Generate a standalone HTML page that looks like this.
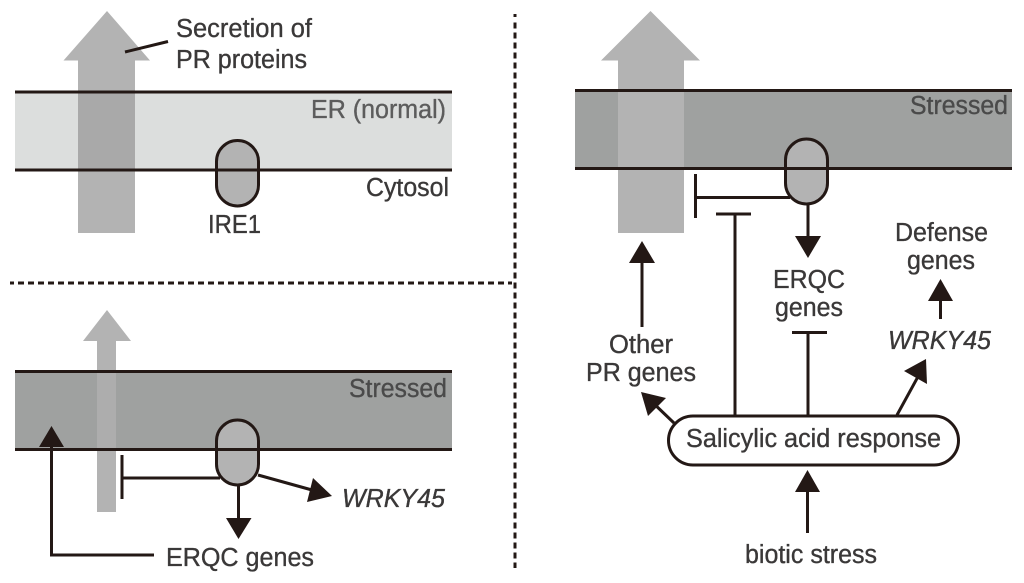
<!DOCTYPE html>
<html><head><meta charset="utf-8"><style>
html,body{margin:0;padding:0;background:#fff;width:1024px;height:583px;overflow:hidden}
svg{display:block}
text{font-family:"Liberation Sans",sans-serif;font-size:25.5px;fill:#3a3838;stroke:#3a3838;stroke-width:.35px}
.l{stroke:#231815;stroke-width:3;fill:none}
.a{fill:#231815}
.c{stroke:#231815;stroke-width:3;fill:#b3b3b3}
.p{stroke:#231815;stroke-width:3;fill:#fff}
</style></head><body>
<svg width="1024" height="583" viewBox="0 0 1024 583" xmlns="http://www.w3.org/2000/svg">
<!-- dashed dividers -->
<path d="M10 283H14M18 283H512" stroke="#231815" stroke-width="3" stroke-dasharray="6 4" fill="none"/>
<path d="M515 14V17M515 22.500V568" stroke="#231815" stroke-width="3" stroke-dasharray="6 4" fill="none"/>

<!-- Panel 1 -->
<rect x="15" y="92" width="437" height="78" fill="#dcdedd"/>
<path d="M107 11L150 60.500H135V233H78V60.500H63.500Z" fill="#b3b3b3"/>
<rect x="78" y="92" width="57" height="78" fill="#a9a9a9"/>
<path class="l" d="M15 92H452M15 170H452"/>
<rect x="216.500" y="140.500" width="42" height="65.500" rx="21" class="c"/>
<path class="l" d="M216 170H259"/>
<path class="l" d="M125 52L168 41.500"/>
<text x="176" y="37" textLength="136" lengthAdjust="spacingAndGlyphs">Secretion of</text>
<text x="176" y="68" textLength="131" lengthAdjust="spacingAndGlyphs">PR proteins</text>
<text x="311" y="118" textLength="135" lengthAdjust="spacingAndGlyphs" style="fill:#5c5c5c;stroke:#5c5c5c">ER (normal)</text>
<text x="366" y="196" textLength="83" lengthAdjust="spacingAndGlyphs">Cytosol</text>
<text x="208" y="233" textLength="53" lengthAdjust="spacingAndGlyphs">IRE1</text>

<!-- Panel 2 -->
<rect x="15" y="371" width="437" height="79" fill="#9fa1a0"/>
<path d="M107 310L131 341H116V512H97V341H83Z" fill="#b3b3b3"/>
<rect x="97" y="371" width="19" height="79" fill="#adadad"/>
<path class="l" d="M15 371.500H452M15 449.500H452"/>
<rect x="216.500" y="420" width="42" height="65" rx="21" class="c"/>
<path class="l" d="M216 449.500H259"/>
<path class="l" d="M122 455V499M122 478H220"/>
<path class="l" d="M238.500 485V520"/>
<path class="a" d="M226 518H251.500L238.500 539Z"/>
<path class="l" d="M258 475L312 490"/>
<path class="a" d="M313 478L332 496L307 502Z"/>
<path class="l" d="M154 555H51.500V446"/>
<path class="a" d="M51.500 426L64 447H39Z"/>
<text x="349" y="397" textLength="98" lengthAdjust="spacingAndGlyphs" style="fill:#4a4a4a;stroke:#4a4a4a">Stressed</text>
<text x="342" y="507" textLength="103" lengthAdjust="spacingAndGlyphs" font-style="italic">WRKY45</text>
<text x="166" y="566" textLength="148" lengthAdjust="spacingAndGlyphs">ERQC genes</text>

<!-- Panel 3 -->
<rect x="575" y="90" width="437" height="78" fill="#9fa1a0"/>
<path d="M650.500 11L700 60.500H684V233H618V60.500H601Z" fill="#b3b3b3"/>
<path class="l" d="M575 90.500H1012M575 168.500H1012"/>
<rect x="785.500" y="139" width="42" height="65" rx="21" class="c"/>
<path class="l" d="M785 168.500H829"/>
<path class="l" d="M695.500 174V218M695 197.500H790"/>
<path class="l" d="M808 204V238"/>
<path class="a" d="M795 236H821L808 258Z"/>
<path class="l" d="M716 214H751M735 214V415"/>
<path class="l" d="M642 262V327"/>
<path class="a" d="M642 241L655 263H629Z"/>
<path class="l" d="M792 332.500H827M808 332V415"/>
<path class="l" d="M940.500 300V319"/>
<path class="a" d="M940.500 279L953 301H928Z"/>
<rect x="668.500" y="416" width="290" height="49" rx="24.500" class="p"/>
<path class="l" d="M674 423L650 400"/>
<path class="a" d="M641 392L666 398L648 416Z"/>
<path class="l" d="M897 415L920 373"/>
<path class="a" d="M926 359L927 384L904 371Z"/>
<path class="l" d="M807.500 490V533"/>
<path class="a" d="M807.500 470L820 492H795Z"/>
<text x="910" y="114" textLength="98" lengthAdjust="spacingAndGlyphs" style="fill:#4a4a4a;stroke:#4a4a4a">Stressed</text>
<text x="895" y="241" textLength="93" lengthAdjust="spacingAndGlyphs">Defense</text>
<text x="907" y="269" textLength="68" lengthAdjust="spacingAndGlyphs">genes</text>
<text x="773" y="288" textLength="72" lengthAdjust="spacingAndGlyphs">ERQC</text>
<text x="775" y="316" textLength="68" lengthAdjust="spacingAndGlyphs">genes</text>
<text x="888" y="349" textLength="103" lengthAdjust="spacingAndGlyphs" font-style="italic">WRKY45</text>
<text x="609" y="353" textLength="64" lengthAdjust="spacingAndGlyphs">Other</text>
<text x="586" y="381" textLength="110" lengthAdjust="spacingAndGlyphs">PR genes</text>
<text x="686" y="447" textLength="255" lengthAdjust="spacingAndGlyphs">Salicylic acid response</text>
<text x="745" y="563" textLength="132" lengthAdjust="spacingAndGlyphs">biotic stress</text>
</svg>
</body></html>
